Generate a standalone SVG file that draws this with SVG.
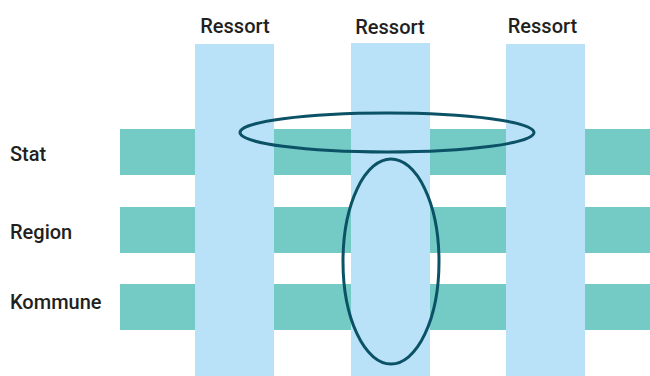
<svg xmlns="http://www.w3.org/2000/svg" width="650" height="376" viewBox="0 0 650 376">
<style>
.level{fill:#74cac5}
.ressort{fill:#b9e1f7}
.ring{fill:none;stroke:#0b5266;stroke-width:3}
text{font-family:Roboto,"Liberation Sans",sans-serif;font-weight:500;font-size:20px;fill:#231f20}
.lbl{text-anchor:middle}
</style>
<rect width="650" height="376" fill="#ffffff"/>
<g id="level-stat"><rect class="level" x="120" y="129" width="530" height="46"/><text x="10" y="161">Stat</text></g>
<g id="level-region"><rect class="level" x="120" y="207" width="530" height="46"/><text x="10" y="239">Region</text></g>
<g id="level-kommune"><rect class="level" x="120" y="284" width="530" height="46"/><text x="10" y="309">Kommune</text></g>
<g id="ressort-1"><rect class="ressort" x="195" y="44" width="79" height="332"/><text class="lbl" x="235" y="32.5">Ressort</text></g>
<g id="ressort-2"><rect class="ressort" x="351" y="43" width="79" height="333"/><text class="lbl" x="390" y="34">Ressort</text></g>
<g id="ressort-3"><rect class="ressort" x="506" y="44" width="79" height="332"/><text class="lbl" x="542.5" y="32.5">Ressort</text></g>
<g id="ring-horizontal"><ellipse class="ring" cx="387" cy="132.5" rx="147" ry="19.5"/></g>
<g id="ring-vertical"><ellipse class="ring" cx="391" cy="261.5" rx="48" ry="102.5"/></g>
</svg>
